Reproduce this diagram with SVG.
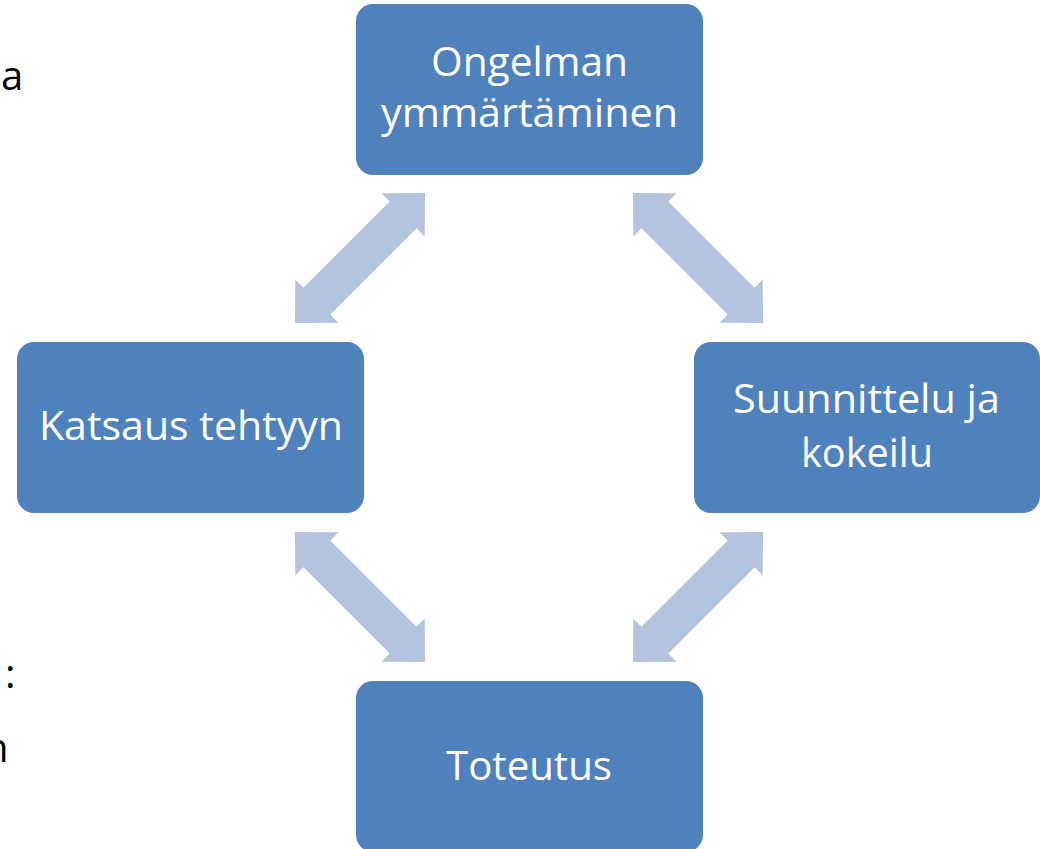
<svg xmlns="http://www.w3.org/2000/svg" width="1040" height="849" viewBox="0 0 1040 849">
  <style>
    .box { fill: #4F81BD; }
    .lbl { font-family: "Open Sans", "Noto Sans", sans-serif; font-size: 41px; fill: #FFFFFF; text-anchor: middle; }
    .side { font-family: "Open Sans", "Noto Sans", sans-serif; font-size: 40px; fill: #000000; }
    .arr { fill: #B4C4DE; }
  </style>
  <defs>
    <polygon id="dblarrow" points="-92,0 -61,-30.5 -61,-19 61,-19 61,-30.5 92,0 61,30.5 61,19 -61,19 -61,30.5"/>
  </defs>
  <rect width="1040" height="849" fill="#FFFFFF"/>

  <g id="background-text">
    <text class="side" x="1" y="90">a</text>
    <text class="side" x="5" y="688">:</text>
    <text class="side" x="-16" y="762">n</text>
  </g>

  <g id="connectors">
    <use href="#dblarrow" class="arr" transform="translate(360,258) rotate(-45)"/>
    <use href="#dblarrow" class="arr" transform="translate(698,258) rotate(45)"/>
    <use href="#dblarrow" class="arr" transform="translate(698,597) rotate(-45)"/>
    <use href="#dblarrow" class="arr" transform="translate(360,597) rotate(45)"/>
  </g>

  <g id="node-ongelman">
    <rect class="box" x="356" y="4" width="347" height="171" rx="17" ry="17"/>
    <text class="lbl" x="529.5" y="76" textLength="197" lengthAdjust="spacingAndGlyphs">Ongelman</text>
    <text class="lbl" x="529.5" y="127" textLength="297" lengthAdjust="spacingAndGlyphs">ymmärtäminen</text>
  </g>

  <g id="node-suunnittelu">
    <rect class="box" x="694" y="342" width="346" height="171" rx="17" ry="17"/>
    <text class="lbl" x="866.5" y="413" textLength="267" lengthAdjust="spacingAndGlyphs">Suunnittelu ja</text>
    <text class="lbl" x="867" y="467" textLength="132" lengthAdjust="spacingAndGlyphs">kokeilu</text>
  </g>

  <g id="node-katsaus">
    <rect class="box" x="17" y="342" width="347" height="171" rx="17" ry="17"/>
    <text class="lbl" x="191" y="440" textLength="304" lengthAdjust="spacingAndGlyphs">Katsaus tehtyyn</text>
  </g>

  <g id="node-toteutus">
    <rect class="box" x="356" y="681" width="347" height="171" rx="17" ry="17"/>
    <text class="lbl" x="529" y="780" textLength="166" lengthAdjust="spacingAndGlyphs">Toteutus</text>
  </g>
</svg>
